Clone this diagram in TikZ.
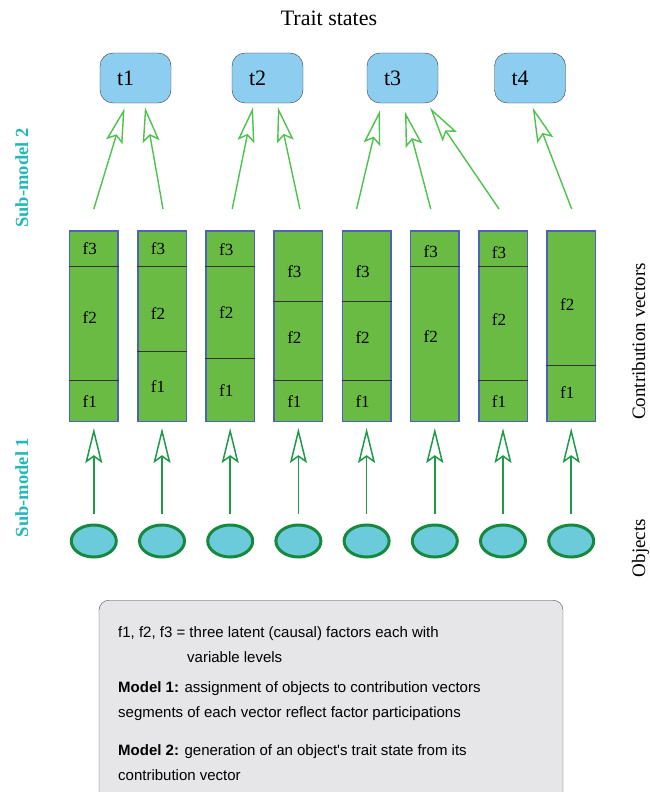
\documentclass[tikz,border=0pt]{standalone}
\usepackage{fontspec}
\setmainfont{Liberation Serif}
\setsansfont{Liberation Sans}
\usetikzlibrary{arrows.meta,shapes.geometric}
\usetikzlibrary{positioning}
\definecolor{traitblue}{HTML}{8DCDF0}
\definecolor{traitline}{HTML}{3A3A3A}
\definecolor{vecgreen}{HTML}{6ABB44}
\definecolor{vecline}{HTML}{4E63B5}
\definecolor{litegreen}{HTML}{4DC24D}
\definecolor{darkgreen}{HTML}{1E9A48}
\definecolor{objline}{HTML}{17893F}
\definecolor{objcyan}{HTML}{6BCBDA}
\definecolor{subteal}{HTML}{22B8B8}
\definecolor{notegray}{HTML}{E6E6E8}
\definecolor{noteline}{HTML}{4A4A4A}
\tikzset{
    trait/.style={
           rectangle,
           rounded corners=13pt,
           draw=traitline, thin,
           fill=traitblue,
           minimum height=50pt,
           text width=37pt, inner xsep=17pt,
           align=left,
           font=\fontsize{22}{22}\selectfont,
           },
    vec/.style={
           rectangle,
           draw=vecline, line width=1.5pt,
           fill=vecgreen,
           minimum width=48.5pt, minimum height=190.5pt,
           inner sep=0pt,
           },
    obj/.style={
           ellipse,
           draw=objline, line width=3pt,
           fill=objcyan,
           minimum width=45pt, minimum height=32pt,
           inner sep=0pt,
           },
    seg/.style={font=\fontsize{17}{17}\selectfont, inner sep=0pt},
    sepline/.style={draw=black!80, line width=0.8pt},
    subone/.style={draw=darkgreen, line width=1.5pt,
           -{Stealth[open, length=35pt, width=17pt, inset=6pt]},
           shorten <=10pt, shorten >=6pt},
    subtwo/.style={draw=litegreen, line width=1.4pt,
           -{Stealth[open, length=35pt, width=17pt, inset=6pt]}},
    sidelbl/.style={rotate=90, anchor=base, font=\bfseries\fontsize{18.5}{18.5}\selectfont, text=subteal},
    levellbl/.style={rotate=90, anchor=base, font=\fontsize{19}{19}\selectfont},
    notebox/.style={
           rectangle,
           rounded corners=10pt,
           draw=noteline, thin,
           fill=notegray,
           minimum width=464pt, minimum height=220pt,
           anchor=north,
           },
    notetext/.style={anchor=north west, inner sep=0pt, align=left,
           font=\sffamily\fontsize{15}{25}\selectfont, text=black},
}
\begin{document}
\begin{tikzpicture}[x=1pt,y=-1pt]
  \useasboundingbox (0,0) rectangle (650,792);

  \node[anchor=base, font=\fontsize{22}{22}\selectfont] (title) at (329,26) {Trait states};

  \node[trait] (t1) at (135.5,78) {t1};
  \node[trait] (t2) at (267.5,78) {t2};
  \node[trait] (t3) at (402.5,78) {t3};
  \node[trait] (t4) at (530,78) {t4};

  \foreach \i/\x in {1/93.8,2/162,3/230.2,4/298.4,5/366.6,6/434.8,7/503,8/571.2}{
    \node[vec] (v\i) at (\x,326) {};
    \node[obj] (o\i) at (\x,541) {};
  }

  \foreach \i/\y in {1/266,1/380,2/266,2/351.5,3/266,3/358,4/301.5,4/380,
                     5/301.5,5/380,6/266,7/266,7/380,8/365}
    \draw[sepline] (v\i.west |- 0,\y) -- (v\i.east |- 0,\y);

  \foreach \i/\f/\y in {1/3/249,1/2/318,1/1/402,
                        2/3/249,2/2/314,2/1/387,
                        3/3/250,3/2/313,3/1/391,
                        4/3/272,4/2/338,4/1/402,
                        5/3/272,5/2/338,5/1/402,
                        6/3/252,6/2/337,
                        7/3/253,7/2/320,7/1/402,
                        8/2/305,8/1/393}
    \node[seg, xshift=-4pt] (v\i-f\f) at (v\i.center |- 0,\y) {f\f};

  \foreach \i in {1,...,8}
    \draw[subone] (o\i) -- (v\i);

  \foreach \v/\dv/\t/\dt/\g in {1/0pt/1/-11pt/5pt, 2/1pt/1/9.5pt/4pt,
                                3/2pt/2/-14.5pt/4pt, 4/1.5pt/2/10.5pt/4pt,
                                5/-10pt/3/-22.5pt/7pt, 6/-4pt/3/2.5pt/8.5pt,
                                7/-4pt/3/27.5pt/4.5pt, 8/0.5pt/4/2.7pt/4.3pt}
    \draw[subtwo] ([xshift=\dv, yshift=21pt]v\v.north) -- ([xshift=\dt, yshift=-\g]t\t.south);

  \node[sidelbl] (sub2) at (28,178) {Sub-model 2};
  \node[sidelbl] (sub1) at (28,487.5) {Sub-model 1};
  \node[levellbl] (contrib) at (645,341.5) {Contribution vectors};
  \node[levellbl] (objects) at (645,548) {Objects};

  \node[notebox] (note) at (331,600) {};
  \node[notetext] (notes) at (118,626.5) {%
    f1, f2, f3 = three latent (causal) factors each with\\
    \hspace*{69pt}variable levels\\[5pt]
    \textbf{Model 1:} assignment of objects to contribution vectors\\
    segments of each vector reflect factor participations\\[13pt]
    \textbf{Model 2:} generation of an object\textquotesingle s trait state from its\\
    contribution vector};
\end{tikzpicture}
\end{document}
